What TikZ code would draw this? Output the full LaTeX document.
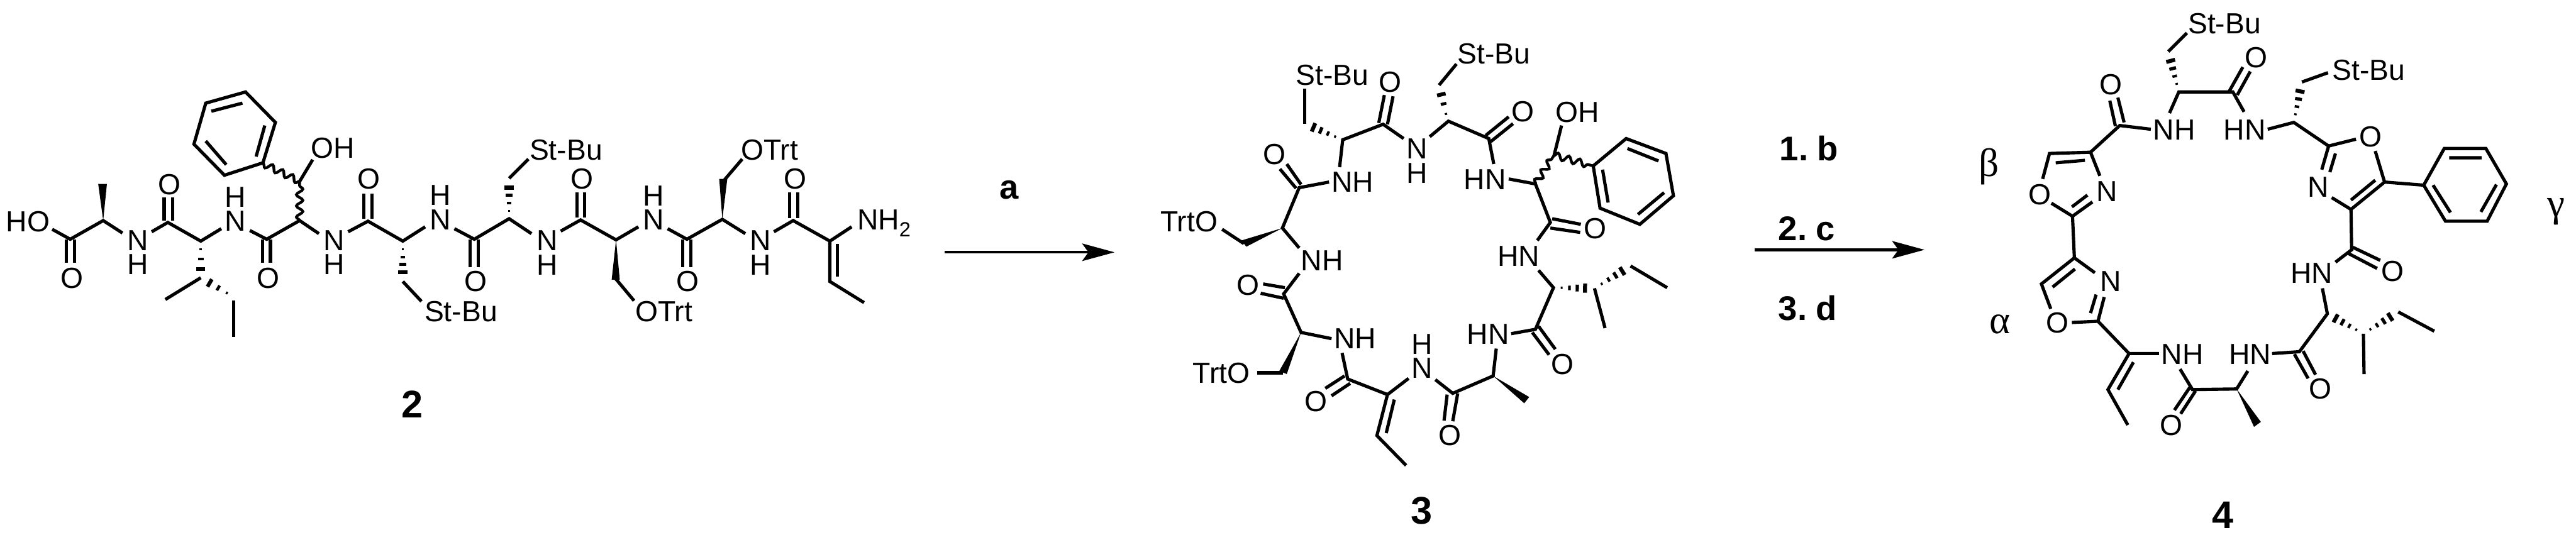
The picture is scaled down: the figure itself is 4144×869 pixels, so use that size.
\documentclass[tikz,border=0pt]{standalone}
\usepackage{fontspec}
\setmainfont{Liberation Sans}
\newfontfamily\greekf{Liberation Serif}
\newfontfamily\reagf[WordSpace=0.6]{Liberation Sans}
\usetikzlibrary{arrows.meta,decorations.pathmorphing}
\newcounter{labn}
\tikzset{
  bond/.style={line width=2.6pt,line cap=butt,line join=miter,black},
  wavy/.style={line width=2.2pt,black,decorate,decoration={snake,segment length=9pt,amplitude=2.6pt}},
  lab/.style={inner sep=0pt,outer sep=0pt,font=\fontsize{23.4}{23.4}\selectfont},
  num/.style={inner sep=0pt,outer sep=0pt,font=\fontsize{31}{31}\selectfont\bfseries},
  reag/.style={inner sep=0pt,outer sep=0pt,font=\fontsize{27.5}{27.5}\selectfont\reagf\bfseries},
  grk/.style={inner sep=0pt,outer sep=0pt,font=\fontsize{32}{32}\selectfont\greekf},
  rarrow/.style={line width=2.2pt,-{Stealth[length=26pt,width=14pt,inset=5pt]}}
}
\newcommand\atm[3]{\stepcounter{labn}\node[lab,anchor=base] (t\thelabn) at (#1,#2) {#3};}
\newcommand\grp[3]{\stepcounter{labn}\node[lab,anchor=base west] (t\thelabn) at (#1,#2) {#3};}
\newcommand\wedgeb[6]{\fill (#1,#2) -- (#3,#4) -- (#5,#6) -- cycle;}
\newcommand\hashw[5][.2,.39,.58,.77]{%
  \pgfmathsetmacro\hsdx{#4-#2}\pgfmathsetmacro\hsdy{#5-#3}%
  \pgfmathsetmacro\hslen{veclen(\hsdx,\hsdy)}%
  \pgfmathsetmacro\hsux{\hsdx/\hslen}\pgfmathsetmacro\hsuy{\hsdy/\hslen}%
  \foreach \tv in {#1}{%
    \pgfmathsetmacro\hsx{#2+\tv*\hsdx}\pgfmathsetmacro\hsy{#3+\tv*\hsdy}%
    \pgfmathsetmacro\hsw{9.5*\tv}\pgfmathsetmacro\hsd{1.0+2.8*\tv}%
    \fill ({\hsx-\hsux*\hsd-\hsuy*\hsw},{\hsy-\hsuy*\hsd+\hsux*\hsw})
      -- ({\hsx+\hsux*\hsd-\hsuy*\hsw},{\hsy+\hsuy*\hsd+\hsux*\hsw})
      -- ({\hsx+\hsux*\hsd+\hsuy*\hsw},{\hsy+\hsuy*\hsd-\hsux*\hsw})
      -- ({\hsx-\hsux*\hsd+\hsuy*\hsw},{\hsy-\hsuy*\hsd-\hsux*\hsw}) -- cycle;
  }%
}
\begin{document}
\begin{tikzpicture}[x=0.5pt,y=-0.5pt]
\fill[white] (0,0) rectangle (4144,869);
\useasboundingbox (0,0) rectangle (4144,869);

% ===== compound 2 =====
\grp{10}{373}{HO}
\atm{116}{464}{O}
\atm{222}{403}{N}\atm{222}{442}{H}
\atm{273}{313}{O}
\atm{379}{372}{N}\atm{379}{333}{H}
\atm{431}{464}{O}
\grp{500}{254}{OH}
\atm{537}{403}{N}\atm{537}{442}{H}
\atm{593}{304}{O}
\atm{708}{370}{N}\atm{708}{330}{H}
\atm{765}{469}{O}
\grp{683}{517}{St-Bu}
\grp{852}{257}{St-Bu}
\atm{936}{304}{O}
\atm{880}{403}{N}\atm{880}{443}{H}
\atm{1051}{370}{N}\atm{1051}{331}{H}
\atm{1106}{469}{O}
\grp{1022}{517}{OTrt}
\grp{1192}{257}{OTrt}
\atm{1279}{304}{O}
\atm{1223}{403}{N}\atm{1223}{443}{H}
\grp{1379}{370}{NH\raisebox{-5.5pt}{\fontsize{16.5}{16.5}\selectfont 2}}
\stepcounter{labn}\node[num,anchor=base] (c2) at (663,672) {2};

\draw[bond] (84,369)--(113,385)--(166,355)--(197,375);
\draw[bond] (107,385)--(107,423) (120,385)--(120,423);
\wedgeb{166}{355}{158}{296}{172}{296}
\draw[bond] (244,373)--(270,358)--(323,388)--(356,368);
\draw[bond] (264,355)--(264,318) (278,355)--(278,318);
\hashw[.22,.49,.76]{323}{388}{323}{447}
\draw[bond] (323,447)--(266,482);
\hashw[.21,.47,.73]{376}{478}{323}{447}
\draw[bond] (376,484)--(376,542);
\draw[bond] (402,371)--(429,385)--(482,355)--(513,376);
\draw[bond] (422,385)--(422,423) (435,385)--(435,423);
\draw[wavy] (482,355)--(482,292);
\draw[wavy] (482,292)--(423,263);
\draw[bond] (482,292)--(503,257);
\draw[bond] (423,262)--(443,197)--(395,148)--(331,166)--(312,232)--(361,282)--cycle;
\draw[bond] (412,252)--(426,202) (340,179)--(390,166) (331,227)--(364,265);
\draw[bond] (560,373)--(592,356)--(648,388)--(684,365);
\draw[bond] (585,352)--(585,312) (598,352)--(598,312);
\hashw{648}{388}{648}{453}
\draw[bond] (648,453)--(678,485);
\draw[bond] (731,368)--(763,385)--(819,352)--(855,376);
\draw[bond] (756,385)--(756,430) (769,385)--(769,430);
\hashw{819}{352}{819}{287}
\draw[bond] (819,287)--(850,256);
\draw[bond] (902,372)--(934,354)--(991,386)--(1027,365);
\draw[bond] (928,350)--(928,310) (940,350)--(940,310);
\wedgeb{991}{386}{984}{450}{997}{450}
\draw[bond] (990,448)--(1020,484);
\draw[bond] (1074,368)--(1105,385)--(1162,353)--(1199,376);
\draw[bond] (1098,385)--(1098,430) (1111,385)--(1111,430);
\wedgeb{1162}{353}{1157}{288}{1170}{288}
\draw[bond] (1165,290)--(1194,256);
\draw[bond] (1245,373)--(1276,355)--(1335,388)--(1370,365);
\draw[bond] (1270,351)--(1270,310) (1283,351)--(1283,310);
\draw[bond] (1335,388)--(1335,453)--(1390,487);
\draw[bond] (1347,393)--(1347,445);

% reaction arrow a
\coordinate (a1) at (1520,406);
\coordinate (a2) at (1793,406);
\draw[rarrow] (a1)--(a2);
\stepcounter{labn}\node[reag,anchor=base] (ra) at (1623,320) {a};

% ===== compound 3 =====
\grp{2085}{137}{St-Bu}
\atm{2236}{148}{O}
\atm{2280}{255}{N}\atm{2280}{295}{H}
\grp{2142}{309}{NH}
\atm{2050}{265}{O}
\grp{1867}{373}{TrtO}
\grp{2093}{436}{NH}
\atm{2008}{475}{O}
\grp{1919}{617}{TrtO}
\grp{2146}{561}{NH}
\atm{2117}{662}{O}
\atm{2288}{609}{N}\atm{2288}{570}{H}
\atm{2332}{717}{O}
\grp{2360}{554}{HN}
\atm{2514}{602}{O}
\grp{2409}{428}{HN}
\atm{2566}{384}{O}
\grp{2355}{305}{HN}
\grp{2502}{197}{OH}
\atm{2450}{196}{O}
\grp{2345}{103}{St-Bu}
\stepcounter{labn}\node[num,anchor=base] (c3) at (2287,843) {3};

\draw[bond] (2099,143)--(2099,199);
\hashw{2160}{225}{2099}{199}
\draw[bond] (2155,269)--(2160,225)--(2225,200)--(2258,223);
\draw[bond] (2218,198)--(2227,153) (2232,200)--(2241,155);
\draw[bond] (2300,220)--(2330,195)--(2395,223)--(2403,264);
\hashw[.2,.48,.74]{2329}{195}{2315}{137}
\draw[bond] (2315,137)--(2343,103);
\draw[bond] (2390,218)--(2427,188) (2398,228)--(2434,199);
\draw[bond] (2138,293)--(2090,302)--(2063,367)--(2090,399);
\draw[bond] (2085,303)--(2059,272) (2093,297)--(2070,264);
\wedgeb{2063}{367}{1997}{387}{2005}{397}
\draw[bond] (2001,392)--(1966,369);
\draw[bond] (2090,440)--(2065,473)--(2093,535)--(2142,545);
\draw[bond] (2067,463)--(2032,457) (2065,480)--(2028,472);
\wedgeb{2093}{535}{2058}{597}{2070}{602}
\draw[bond] (2064,600)--(2022,600);
\draw[bond] (2159,568)--(2168,610)--(2232,635)--(2266,609);
\draw[bond] (2163,605)--(2132,625) (2172,617)--(2142,637);
\draw[bond] (2232,635)--(2215,701)--(2262,749);
\draw[bond] (2243,643)--(2230,697);
\draw[bond] (2309,611)--(2337,633)--(2402,605)--(2407,561);
\draw[bond] (2328,635)--(2323,677) (2345,633)--(2337,678);
\wedgeb{2402}{605}{2460}{639}{2452}{649}
\draw[bond] (2431,537)--(2470,530)--(2499,463)--(2475,435);
\draw[bond] (2465,535)--(2492,571) (2475,525)--(2502,562);
\hashw{2499}{463}{2565}{464}
\draw[bond] (2565,464)--(2582,528);
\hashw{2565}{464}{2623}{428}
\draw[bond] (2623,428)--(2682,463);
\draw[bond] (2473,387)--(2494,358)--(2470,296)--(2427,288);
\draw[bond] (2497,352)--(2543,361) (2494,367)--(2542,374);
\draw[wavy] (2470,296)--(2500,250);
\draw[wavy] (2500,250)--(2563,267);
\draw[bond] (2500,250)--(2512,202);
\draw[bond] (2563,267)--(2616,223)--(2680,247)--(2692,315)--(2638,361)--(2574,335)--cycle;
\draw[bond] (2578,273)--(2587,326) (2618,239)--(2668,259) (2677,310)--(2635,345);

% reaction arrow b,c,d
\coordinate (b1) at (2823,402);
\coordinate (b2) at (3096,402);
\draw[rarrow] (b1)--(b2);
\stepcounter{labn}\node[reag,anchor=base west] (rb) at (2863,258) {1. b};
\stepcounter{labn}\node[reag,anchor=base west] (rc) at (2861,387) {2. c};
\stepcounter{labn}\node[reag,anchor=base west] (rd) at (2861,515) {3. d};

% ===== compound 4 =====
\stepcounter{labn}\node[grk,anchor=base west] (gb) at (3183,284) {β};
\stepcounter{labn}\node[grk,anchor=base west] (ga) at (3201,537) {α};
\stepcounter{labn}\node[grk,anchor=base west] (gg) at (4098,349) {γ};
\atm{3281}{329}{O}
\atm{3389}{324}{N}
\atm{3396}{152}{O}
\grp{3464}{225}{NH}
\grp{3520}{54}{St-Bu}
\grp{3577}{225}{HN}
\atm{3629}{109}{O}
\grp{3752}{129}{St-Bu}
\atm{3814}{236}{O}
\atm{3729}{317}{N}
\atm{3849}{453}{O}
\grp{3685}{456}{HN}
\atm{3733}{642}{O}
\grp{3586}{586}{HN}
\grp{3477}{586}{NH}
\atm{3493}{701}{O}
\atm{3310}{536}{O}
\atm{3395}{469}{N}
\stepcounter{labn}\node[num,anchor=base] (c4) at (3576,850) {4};

\draw[bond] (3286,288)--(3297,247)--(3363,245)--(3378,283);
\draw[bond] (3307,262)--(3354,258);
\draw[bond] (3366,325)--(3334,348)--(3300,327);
\draw[bond] (3358,314)--(3333,333);
\draw[bond] (3334,348)--(3337,415);
\draw[bond] (3363,245)--(3410,202)--(3460,208);
\draw[bond] (3403,203)--(3394,162) (3417,197)--(3407,157);
\draw[bond] (3490,182)--(3505,148)--(3592,148)--(3610,180);
\hashw{3505}{148}{3488}{83}
\draw[bond] (3488,83)--(3518,53);
\draw[bond] (3586,147)--(3608,108) (3599,153)--(3620,115);
\draw[bond] (3648,208)--(3690,197)--(3746,235)--(3790,224);
\hashw{3690}{197}{3703}{132}
\draw[bond] (3703,132)--(3745,117);
\draw[bond] (3821,243)--(3836,293)--(3782,337)--(3751,318);
\draw[bond] (3821,290)--(3782,322);
\draw[bond] (3735,273)--(3746,235);
\draw[bond] (3748,277)--(3757,247);
\draw[bond] (3836,293)--(3899,298);
\draw[bond] (3899,298)--(3932,239)--(3999,239)--(4032,296)--(4001,356)--(3934,356)--cycle;
\draw[bond] (3940,254)--(3992,254) (4016,297)--(3991,341) (3914,298)--(3942,342);
\draw[bond] (3782,337)--(3783,402)--(3757,422);
\draw[bond] (3785,398)--(3829,419) (3778,408)--(3824,432);
\draw[bond] (3736,464)--(3744,505)--(3699,566)--(3655,569);
\hashw{3802}{537}{3744}{505}
\draw[bond] (3802,537)--(3803,602);
\hashw{3802}{537}{3858}{502}
\draw[bond] (3858,502)--(3916,533);
\draw[bond] (3691,570)--(3713,609) (3705,565)--(3725,603);
\draw[bond] (3616,597)--(3598,626)--(3527,627)--(3507,594);
\wedgeb{3598}{626}{3637}{679}{3626}{687}
\draw[bond] (3523,623)--(3498,660) (3532,629)--(3508,666);
\draw[bond] (3473,569)--(3425,569)--(3391,627)--(3423,684);
\draw[bond] (3432,583)--(3407,627);
\draw[bond] (3425,569)--(3375,517)--(3385,478);
\draw[bond] (3363,504)--(3372,474);
\draw[bond] (3375,517)--(3333,519);
\draw[bond] (3299,497)--(3284,457)--(3337,415)--(3370,439);
\draw[bond] (3302,462)--(3338,433);
\end{tikzpicture}
\end{document}
